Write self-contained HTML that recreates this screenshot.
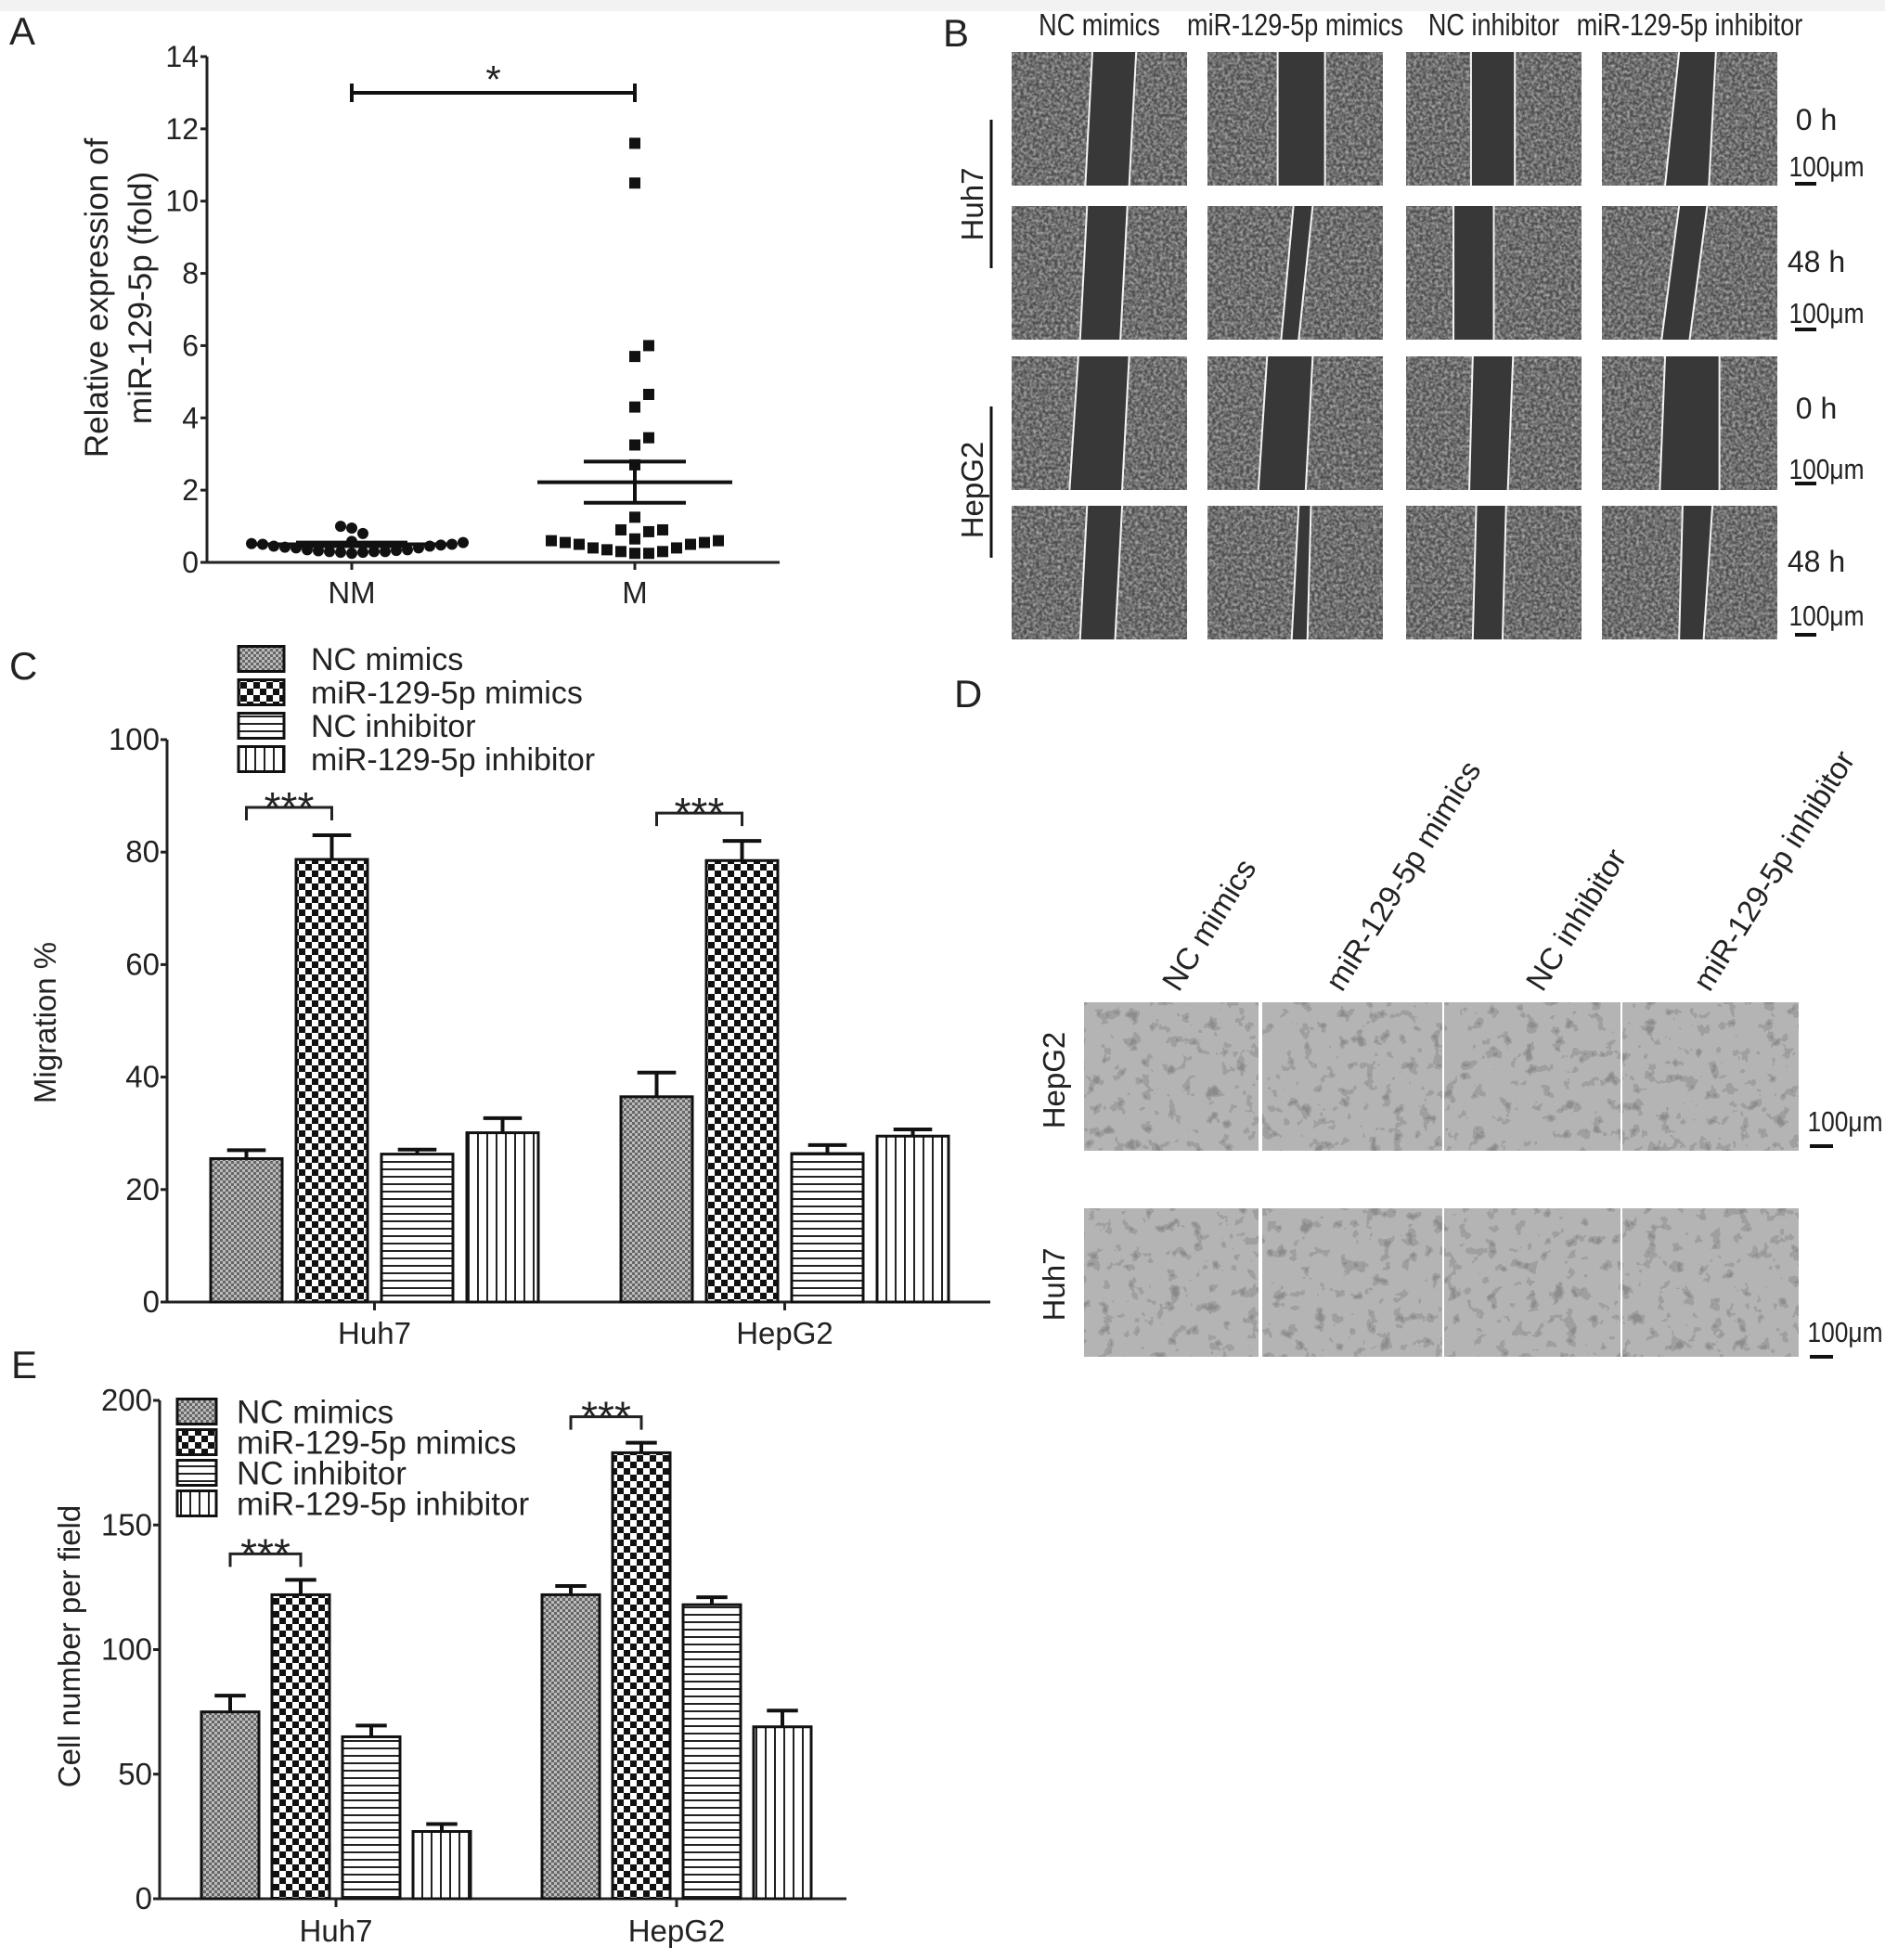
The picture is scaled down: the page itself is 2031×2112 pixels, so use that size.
<!DOCTYPE html>
<html><head><meta charset="utf-8"><style>
html,body{margin:0;padding:0;background:#fff}
svg{display:block}
text{font-family:"Liberation Sans",sans-serif;fill:#222}
</style></head><body>
<svg id="fig" width="2031" height="2112" viewBox="0 0 2031 2112" xmlns="http://www.w3.org/2000/svg">
<defs>
<pattern id="pFine" width="6" height="6" patternUnits="userSpaceOnUse"><rect width="6" height="6" fill="#bbb"/><rect width="3" height="3" fill="#666"/><rect x="3" y="3" width="3" height="3" fill="#666"/></pattern>
<pattern id="pCheck" width="14" height="14" patternUnits="userSpaceOnUse"><rect width="14" height="14" fill="#fff"/><rect width="7" height="7" fill="#111"/><rect x="7" y="7" width="7" height="7" fill="#111"/></pattern>
<pattern id="pHor" width="8" height="8" patternUnits="userSpaceOnUse"><rect width="8" height="8" fill="#fff"/><rect y="3" width="8" height="2" fill="#222"/></pattern>
<pattern id="pVer" width="10" height="10" patternUnits="userSpaceOnUse"><rect width="10" height="10" fill="#fff"/><rect x="4" width="2" height="10" fill="#222"/></pattern>
<filter id="noiseDark" x="0" y="0" width="100%" height="100%"><feTurbulence type="fractalNoise" baseFrequency="0.3" numOctaves="2" seed="3"/><feColorMatrix type="matrix" values="0 0 0 0 0.5  0 0 0 0 0.5  0 0 0 0 0.5  0 0 0 -1.6 1.1"/><feComposite in2="SourceGraphic" operator="in"/></filter>
<filter id="noiseLight" x="0" y="0" width="100%" height="100%"><feTurbulence type="fractalNoise" baseFrequency="0.07" numOctaves="3" seed="7"/><feComponentTransfer><feFuncA type="discrete" tableValues="0 0 0 0 0 0.5 0.9 1"/></feComponentTransfer><feColorMatrix type="matrix" values="0 0 0 0 0.25  0 0 0 0 0.25  0 0 0 0 0.25  0 0 0 1 0"/><feComposite in2="SourceGraphic" operator="in"/></filter>
</defs>
<rect x="0" y="0" width="2031" height="12" fill="#f2f2f2"/>
</svg>
<script>
// ---------- Panel A data ----------
const catsA = ['NM','M'];
const nmValues = [0.58,0.45,0.35,0.3,0.28,0.32,0.25,0.3,0.35,0.28,0.3,0.33,0.4,0.45,0.5,0.42,0.55,0.48,0.4,0.5,1.0,0.95,0.8,0.52];
const mValues = [11.6,10.5,6.0,5.7,4.65,4.3,3.45,3.25,2.7,1.25,0.9,0.85,0.9,0.65,0.6,0.55,0.5,0.4,0.35,0.3,0.25,0.25,0.3,0.4,0.5,0.55,0.6];
const meanA = [0.5,2.22];
const semA = [0.05,0.57];
const ticksA = [0,2,4,6,8,10,12,14];
// ---------- Panel C data ----------
const groupsC = ['Huh7','HepG2'];
const seriesNames = ['NC mimics','miR-129-5p mimics','NC inhibitor','miR-129-5p inhibitor'];
const cHuh7 = [25.5,78.7,26.3,30.1];
const cHepG2 = [36.5,78.5,26.4,29.5];
const cHuh7Err = [1.5,4.3,0.8,2.6];
const cHepG2Err = [4.3,3.5,1.5,1.2];
const ticksC = [0,20,40,60,80,100];
// ---------- Panel E data ----------
const eHuh7 = [75,122,65,27];
const eHepG2 = [122,179,118,69];
const eHuh7Err = [6.5,6,4.5,3];
const eHepG2Err = [3.5,4,3,6.5];
const ticksE = [0,50,100,150,200];

const NS='http://www.w3.org/2000/svg';
const svg=document.getElementById('fig');
function mk(tag,attrs,parent){const el=document.createElementNS(NS,tag);for(const k in attrs)el.setAttribute(k,attrs[k]);(parent||svg).appendChild(el);return el;}
function txt(s,attrs,parent){const t=mk('text',attrs,parent);t.textContent=s;return t;}
const fills=['url(#pFine)','url(#pCheck)','url(#pHor)','url(#pVer)'];

[['A',10,48],['B',1016,50],['C',10,732],['D',1028,762],['E',12,1485]].forEach(p=>{
  const t=txt(p[0],{x:p[1],y:p[2],'font-size':42});
  
  
});

// ===== Panel A =====
const gA=mk('g',{});


const A={x0:223,x1:840,y0:606,y1:61,max:14};
const yA=v=>A.y0-(v/A.max)*(A.y0-A.y1);
const xA=[379,684];
let l=mk('line',{x1:A.x0,y1:A.y0,x2:A.x0,y2:A.y1,stroke:'#222','stroke-width':3},gA);


l=mk('line',{x1:A.x0,y1:A.y0,x2:A.x1,y2:A.y0,stroke:'#222','stroke-width':3},gA);


ticksA.forEach(v=>{
  const tk=mk('line',{x1:A.x0-7,y1:yA(v),x2:A.x0,y2:yA(v),stroke:'#222','stroke-width':3},gA);
  
  
  const t=txt(String(v),{x:A.x0-9,y:yA(v)+11,'font-size':32,'text-anchor':'end'},gA);
  
  
});
catsA.forEach((c,i)=>{
  const tk=mk('line',{x1:xA[i],y1:A.y0,x2:xA[i],y2:A.y0+8,stroke:'#222','stroke-width':3},gA);
  
  
  const t=txt(c,{x:xA[i],y:650,'font-size':33,'text-anchor':'middle'},gA);
  
  
});
let yt=txt('Relative expression of',{x:0,y:0,'font-size':35,'text-anchor':'middle',transform:'translate(116,321) rotate(-90)'},gA);


yt=txt('miR-129-5p (fold)',{x:0,y:0,'font-size':35,'text-anchor':'middle',transform:'translate(163,321) rotate(-90)'},gA);


function swarm(vals,cx,d){
  const placed=[];const order=vals.map((v,i)=>i).sort((a,b)=>vals[a]-vals[b]);
  const res=[];
  order.forEach(i=>{const y=yA(vals[i]);
    for(let k=0;k<60;k++){const off=(k%2?1:-1)*Math.ceil(k/2)*d;const x=cx+off;
      if(placed.every(p=>Math.hypot(p[0]-x,p[1]-y)>=d)){placed.push([x,y]);res[i]=[x,y];break;}}
  });return res;}
swarm(nmValues,xA[0],12).forEach(p=>{
  const c=mk('circle',{cx:p[0],cy:p[1],r:6,fill:'#111'},gA);
  
  
});
swarm(mValues,xA[1],15).forEach(p=>{
  const c=mk('rect',{x:p[0]-6,y:p[1]-6,width:12,height:12,fill:'#111'},gA);
  
  
});
[[0,105,60],[1,105,55]].forEach(([i,hw,sw])=>{
  const m=mk('line',{x1:xA[i]-hw,y1:yA(meanA[i]),x2:xA[i]+hw,y2:yA(meanA[i]),stroke:'#111','stroke-width':4},gA);
  
  
  [meanA[i]+semA[i],meanA[i]-semA[i]].forEach(v=>{
    const s=mk('line',{x1:xA[i]-sw,y1:yA(v),x2:xA[i]+sw,y2:yA(v),stroke:'#111','stroke-width':4},gA);
    
    
  });
  const v=mk('line',{x1:xA[i],y1:yA(meanA[i]+semA[i]),x2:xA[i],y2:yA(meanA[i]-semA[i]),stroke:'#111','stroke-width':4},gA);
  
  
});
const sg=mk('path',{d:`M${xA[0]},90 V110 M${xA[0]},100 H${xA[1]} M${xA[1]},90 V110`,stroke:'#111','stroke-width':4,fill:'none'},gA);


let st=txt('*',{x:(xA[0]+xA[1])/2,y:100,'font-size':42,'text-anchor':'middle'},gA);



// ===== Bar chart builder =====
function barChart(cfg){
  const g=mk('g',{});
  
  
  const y=v=>cfg.y0-(v/cfg.max)*(cfg.y0-cfg.y1);
  let a=mk('line',{x1:cfg.x0,y1:cfg.y0,x2:cfg.x0,y2:cfg.y1,stroke:'#222','stroke-width':3},g);
  
  
  a=mk('line',{x1:cfg.x0,y1:cfg.y0,x2:cfg.x1,y2:cfg.y0,stroke:'#222','stroke-width':3},g);
  
  
  cfg.ticks.forEach(v=>{
    const tk=mk('line',{x1:cfg.x0-7,y1:y(v),x2:cfg.x0,y2:y(v),stroke:'#222','stroke-width':3},g);
    
    
    const t=txt(String(v),{x:cfg.x0-8,y:y(v)+11,'font-size':cfg.fs,'text-anchor':'end'},g);
    
    
  });
  const yt=txt(cfg.ytitle,{x:0,y:0,'font-size':cfg.fs,'text-anchor':'middle',transform:`translate(${cfg.ytx},${cfg.yty}) rotate(-90)`},g);
  
  
  cfg.groups.forEach((gn,gi)=>{
    const vals=cfg.vals[gi],errs=cfg.errs[gi];
    vals.forEach((v,si)=>{
      const x=cfg.gx[gi]+si*cfg.step;
      const b=mk('rect',{x:x,y:y(v),width:cfg.bw,height:cfg.y0-y(v),fill:fills[si],stroke:'#111','stroke-width':3},g);
      
      
      const cx=x+cfg.bw/2,top=y(v+errs[si]);
      const e=mk('path',{d:`M${cx},${y(v)} V${top} M${cx-cfg.bw*0.27},${top} H${cx+cfg.bw*0.27}`,stroke:'#111','stroke-width':4,fill:'none'},g);
      
      
    });
    const mid=cfg.gx[gi]+(3*cfg.step+cfg.bw)/2;
    const tk=mk('line',{x1:mid,y1:cfg.y0,x2:mid,y2:cfg.y0+9,stroke:'#222','stroke-width':3},g);
    
    
    const t=txt(gn,{x:mid,y:cfg.labY,'font-size':cfg.fs,'text-anchor':'middle'},g);
    
    
    const x1=cfg.gx[gi]+cfg.bw/2,x2=cfg.gx[gi]+cfg.step+cfg.bw/2;
    const by=y(Math.max(vals[0]+errs[0],vals[1]+errs[1]))-cfg.brOff;
    const br=mk('path',{d:`M${x1},${by+14} V${by} H${x2} V${by+14}`,stroke:'#222','stroke-width':3,fill:'none'},g);
    
    
    const s=txt('***',{x:(x1+x2)/2,y:by+16,'font-size':46,'text-anchor':'middle'},g);
    
    
  });
  seriesNames.forEach((n,i)=>{
    const ly=cfg.legY+i*cfg.legStep;
    const bx=mk('rect',{x:cfg.legX,y:ly-cfg.legH/2,width:cfg.legW,height:cfg.legH,fill:fills[i],stroke:'#111','stroke-width':3},g);
    
    
    const t=txt(n,{x:cfg.legTX,y:ly+cfg.legFs*0.36,'font-size':cfg.legFs},g);
    
    
  });
}
barChart({name:'panel-c-migration-chart',p:'c',x0:180,x1:1067,y0:1403,y1:797,max:100,ticks:ticksC,fs:33,
  ytitle:'Migration %',ytx:60,yty:1102,groups:groupsC,vals:[cHuh7,cHepG2],errs:[cHuh7Err,cHepG2Err],
  gx:[227,669],step:92,bw:77,labY:1448,brOff:30,legX:257,legW:49,legH:27,legY:710,legStep:36,legTX:335,legFs:34});
barChart({name:'panel-e-cell-number-chart',p:'e',x0:172,x1:912,y0:2046,y1:1509,max:200,ticks:ticksE,fs:33,
  ytitle:'Cell number per field',ytx:86,yty:1774,groups:groupsC,vals:[eHuh7,eHepG2],errs:[eHuh7Err,eHepG2Err],
  gx:[217,584],step:76,bw:62,labY:2092,brOff:28,legX:191,legW:42,legH:27,legY:1521,legStep:33,legTX:255,legFs:35});

// ===== Panel B =====
const gB=mk('g',{});


const colX=[1090,1301,1515,1726],colW=189;
const rowY=[56,222,384,545],rowH=144;
const gaps=[
 [[.46,.42,.71,.67],[.4,.4,.67,.67],[.37,.37,.62,.62],[.44,.36,.65,.61]],
 [[.43,.39,.66,.62],[.49,.42,.6,.52],[.27,.27,.5,.5],[.44,.34,.6,.5]],
 [[.38,.33,.67,.63],[.34,.29,.6,.56],[.38,.36,.61,.58],[.36,.33,.67,.67]],
 [[.43,.39,.63,.59],[.52,.48,.59,.57],[.4,.38,.57,.55],[.46,.44,.63,.58]]];
const heads=['NC mimics','miR-129-5p mimics','NC inhibitor','miR-129-5p inhibitor'];
heads.forEach((h,i)=>{
  const t=txt(h,{x:0,y:0,'font-size':33,'text-anchor':'middle',transform:`translate(${colX[i]+colW/2},38) scale(0.82,1)`},gB);
  
  
});
rowY.forEach((ry,r)=>colX.forEach((cx,c)=>{
  const gi=mk('g',{},gB);
  
  
  mk('rect',{x:cx,y:ry,width:colW,height:rowH,fill:'#4e4e4e'},gi);
  mk('rect',{x:cx,y:ry,width:colW,height:rowH,fill:'#fff',filter:'url(#noiseDark)'},gi);
  const q=gaps[r][c];
  const p=`${cx+q[0]*colW},${ry} ${cx+q[2]*colW},${ry} ${cx+q[3]*colW},${ry+rowH} ${cx+q[1]*colW},${ry+rowH}`;
  mk('polygon',{points:p,fill:'#383838'},gi);
  mk('line',{x1:cx+q[0]*colW,y1:ry,x2:cx+q[1]*colW,y2:ry+rowH,stroke:'#f4f4f4','stroke-width':2},gi);
  mk('line',{x1:cx+q[2]*colW,y1:ry,x2:cx+q[3]*colW,y2:ry+rowH,stroke:'#f4f4f4','stroke-width':2},gi);
}));
const timeLab=[['0 h',129,179,198],['48 h',282,337,355],['0 h',440,505,521],['48 h',605,663,684]];
timeLab.forEach((t,i)=>{
  let a=txt(t[0],{x:1957,y:t[1]+11,'font-size':32,'text-anchor':'middle'},gB);
  
  
  a=txt('100μm',{x:0,y:0,'font-size':31,'text-anchor':'middle',transform:`translate(1968,${t[2]+11}) scale(0.85,1)`},gB);
  
  
  a=mk('line',{x1:1934,y1:t[3],x2:1957,y2:t[3],stroke:'#111','stroke-width':4},gB);
  
  
});
[['Huh7',220,129,289],['HepG2',528,438,601]].forEach(r=>{
  let a=txt(r[0],{x:0,y:0,'font-size':33,'text-anchor':'middle',transform:`translate(1059,${r[1]}) rotate(-90)`},gB);
  
  
  a=mk('line',{x1:1068,y1:r[2],x2:1068,y2:r[3],stroke:'#111','stroke-width':3},gB);
  
  
});

// ===== Panel D =====
const gD=mk('g',{});


const dCols=[1168,1358,1554,1746,1938];
const dRows=[[1080,1240],[1302,1462]];
dRows.forEach((rr,r)=>{
  for(let c=0;c<4;c++){
    const gi=mk('g',{},gD);
    
    
    const x=dCols[c]+(c?2:0),w=dCols[c+1]-dCols[c]-2;
    mk('rect',{x:x,y:rr[0],width:w,height:rr[1]-rr[0],fill:'#b4b4b4'},gi);
    mk('rect',{x:x,y:rr[0],width:w,height:rr[1]-rr[0],fill:'#fff',filter:'url(#noiseLight)'},gi);
  }
});
['NC mimics','miR-129-5p mimics','NC inhibitor','miR-129-5p inhibitor'].forEach((h,i)=>{
  const ax=[1270,1446,1662,1842][i];
  const t=txt(h,{x:0,y:0,'font-size':33,transform:`translate(${ax},1070) rotate(-58)`},gD);
  
  
});
[['HepG2',1164,1219],['Huh7',1384,1446]].forEach((r,i)=>{
  let a=txt(r[0],{x:0,y:0,'font-size':33,'text-anchor':'middle',transform:`translate(1147,${r[1]}) rotate(-90)`},gD);
  
  
  a=txt('100μm',{x:0,y:0,'font-size':31,'text-anchor':'middle',transform:`translate(1988,${r[2]}) scale(0.85,1)`},gD);
  
  
  a=mk('line',{x1:1950,y1:r[2]+16,x2:1975,y2:r[2]+16,stroke:'#111','stroke-width':4},gD);
  
  
});
</script>
</body></html>
